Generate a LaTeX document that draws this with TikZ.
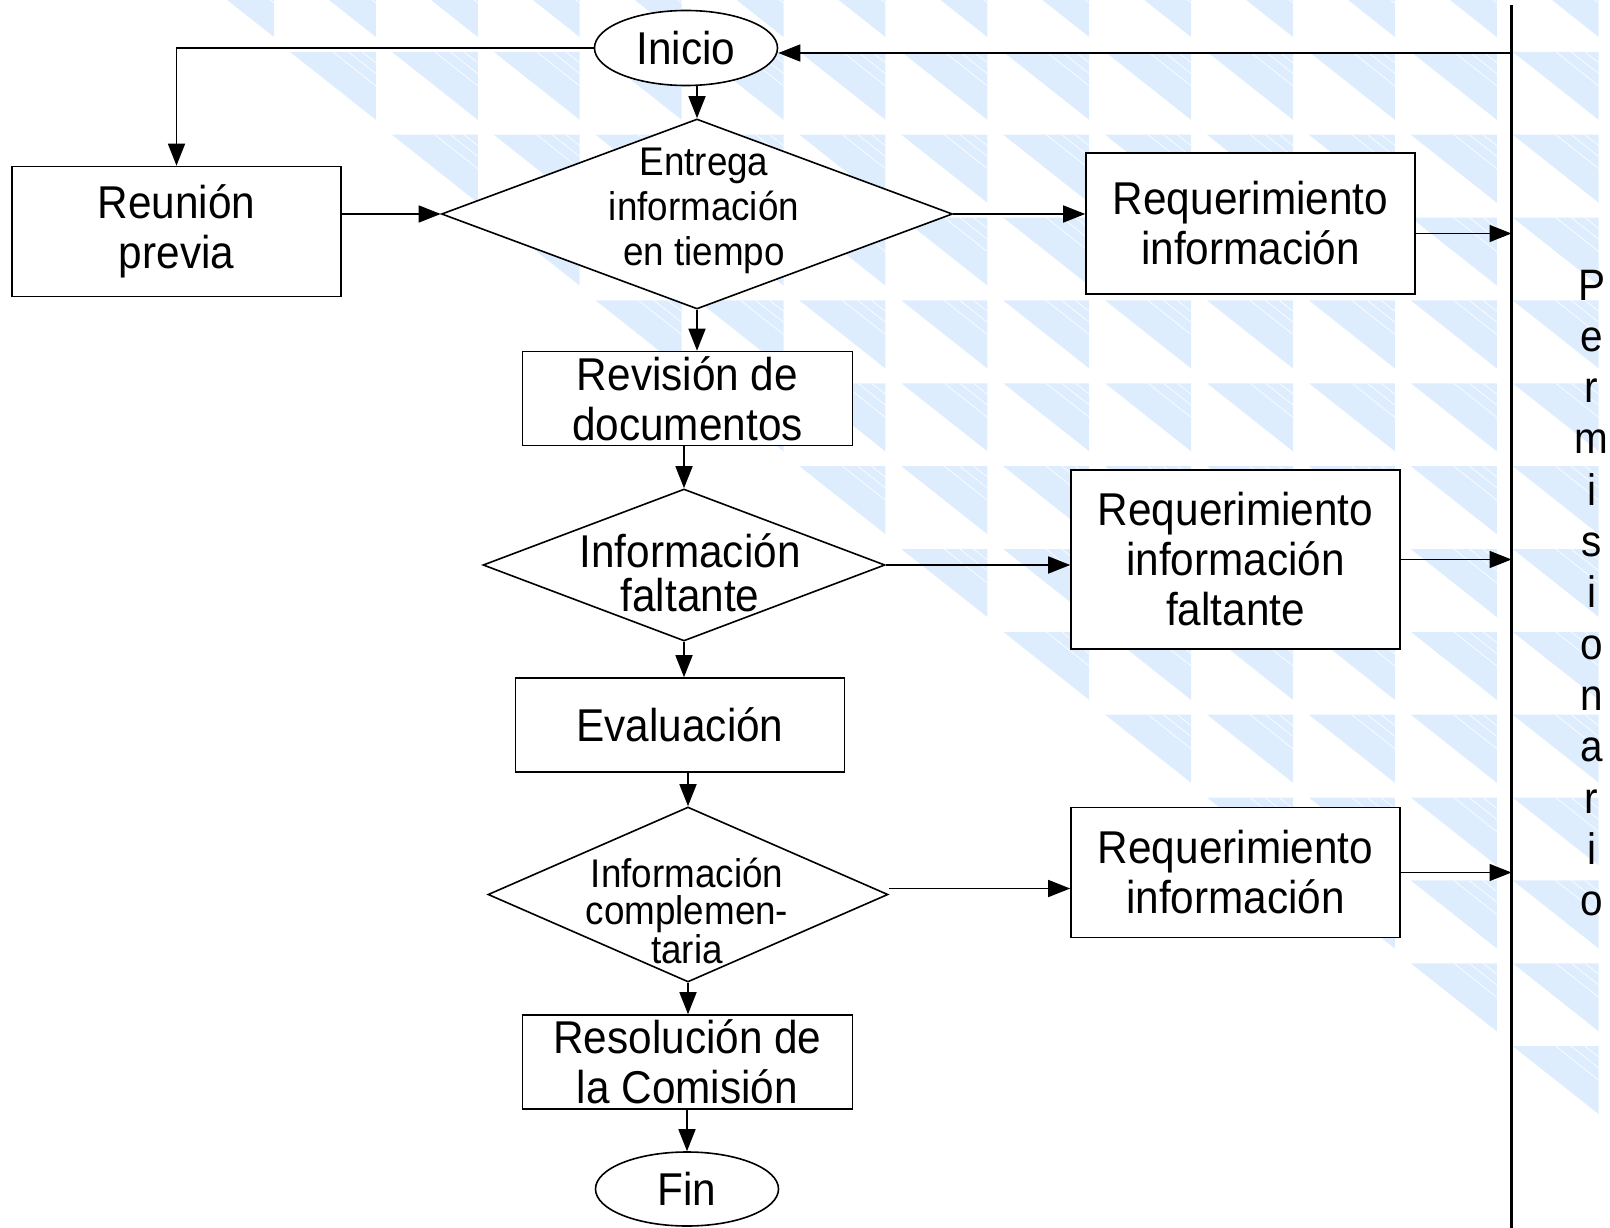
\documentclass[tikz,border=0pt]{standalone}
\usepackage{fontspec}
\setmainfont{Liberation Sans}[FakeStretch=0.92]
\usetikzlibrary{shapes.geometric,arrows.meta}
\definecolor{fondo}{RGB}{222,237,253}
\begin{document}
\begin{tikzpicture}[x=1pt,y=-1pt,
        caja/.style={draw,fill=white,line width=1.6pt,rectangle,align=center,inner sep=0pt,font=\fontsize{46}{50}\selectfont},
        ovalo/.style={draw,fill=white,line width=1.6pt,ellipse,inner sep=0pt,font=\fontsize{46}{50}\selectfont},
        rombo/.style={draw,fill=white,line width=1.6pt,diamond,inner sep=0pt},
        texto/.style={align=center,inner sep=0pt},
        flecha/.style={line width=1.6pt,-{Triangle[length=22pt,width=17pt]}}]
        \useasboundingbox (0,0) rectangle (1610,1228);
        
        % fondo de triangulos
        \begin{scope}
        \clip (0,0) rectangle (1610,1228);
        \foreach \k in {0,...,13}{
            \foreach \m in {\k,...,13}{
                \pgfmathsetmacro{\xr}{274+101.9*\m}
                \pgfmathsetmacro{\yt}{-31+82.86*\k}
                \fill[fondo] (\xr-86,\yt) -- (\xr,\yt) -- (\xr,\yt+68) -- cycle;
                \foreach \t in {0.5,0.68,0.84}
                    \draw[white,line width=0.6pt] (\xr-86+86*\t,\yt) -- (\xr,\yt+68-68*\t);
            }
        }
        \end{scope}
        
        \node[ovalo,minimum width=183pt,minimum height=75pt] (ini) at (686,48) {Inicio};
        \node[caja,minimum width=329pt,minimum height=130pt] (reu) at (176.5,231.5) {Reunión\\previa};
        \node[rombo,minimum width=511pt,minimum height=190pt] (ent) at (697,214) {};
        \node[texto,font=\fontsize{40}{45}\selectfont] (ent-t) at (704,211) {Entrega\\información\\en tiempo};
        \node[caja,minimum width=329pt,minimum height=141pt] (req1) at (1250.5,223.5) {Requerimiento\\información};
        \node[caja,minimum width=330pt,minimum height=94pt] (rev) at (687.5,398.5) {Revisión de\\documentos};
        \node[rombo,minimum width=402pt,minimum height=152pt] (dfal) at (684,565) {};
        \node[texto,font=\fontsize{46}{44}\selectfont] (dfal-t) at (690,573) {Información\\faltante};
        \node[caja,minimum width=329pt,minimum height=179pt] (req2) at (1235.5,559.5) {Requerimiento\\información\\faltante};
        \node[caja,minimum width=329pt,minimum height=94pt] (eva) at (680,725) {Evaluación};
        \node[rombo,minimum width=400pt,minimum height=175pt] (dcom) at (688,894.5) {};
        \node[texto,font=\fontsize{40}{37}\selectfont] (dcom-t) at (687,911) {Información\\complemen-\\taria};
        \node[caja,minimum width=329pt,minimum height=130pt] (req3) at (1235.5,872.5) {Requerimiento\\información};
        \node[caja,minimum width=330pt,minimum height=94pt] (res) at (687.5,1062) {Resolución de\\la Comisión};
        \node[ovalo,minimum width=183pt,minimum height=74pt] (fin) at (687,1189) {Fin};
        
        % permisionario
        \coordinate (vtop) at (1511.5,5);
        \coordinate (vbot) at (1511.5,1228);
        \draw[line width=2.2pt] (vtop) -- (vbot);
        \foreach \l [count=\i from 0] in {P,e,r,m,i,s,i,o,n,a,r,i,o}
            \node[texto,anchor=base,font=\fontsize{44}{50}\selectfont] (p\i) at (1591.5,300+51.3*\i) {\l};
        
        \draw[flecha] (ini.west) -| (reu.north);
        \draw[flecha] (ini.south -| ent.north) -- (ent.north);
        \draw[flecha] (reu.east |- ent.west) -- (ent.west);
        \draw[flecha] (ent.east) -- (ent.east -| req1.west);
        \draw[flecha] (ent.south) -- (ent.south |- rev.north);
        \draw[flecha] (dfal.north |- rev.south) -- (dfal.north);
        \draw[flecha] (dfal.east) -- (dfal.east -| req2.west);
        \draw[flecha] (dfal.south) -- (dfal.south |- eva.north);
        \draw[flecha] (dcom.north |- eva.south) -- (dcom.north);
        \draw[flecha] ([yshift=6pt]dcom.east) -- ([yshift=6pt]dcom.east -| req3.west);
        \draw[flecha] (dcom.south) -- (dcom.south |- res.north);
        \draw[flecha] (res.south -| fin.north) -- (fin.north);
        
        \draw[flecha] ([yshift=-10pt]req1.east) -- ([yshift=-10pt]req1.east -| vtop);
        \draw[flecha] (req2.east) -- (req2.east -| vtop);
        \draw[flecha] (req3.east) -- (req3.east -| vtop);
        \draw[flecha] ([yshift=-5pt]ini.east -| vtop) -- ([yshift=-5pt]ini.east);
        \end{tikzpicture}
\end{document}
